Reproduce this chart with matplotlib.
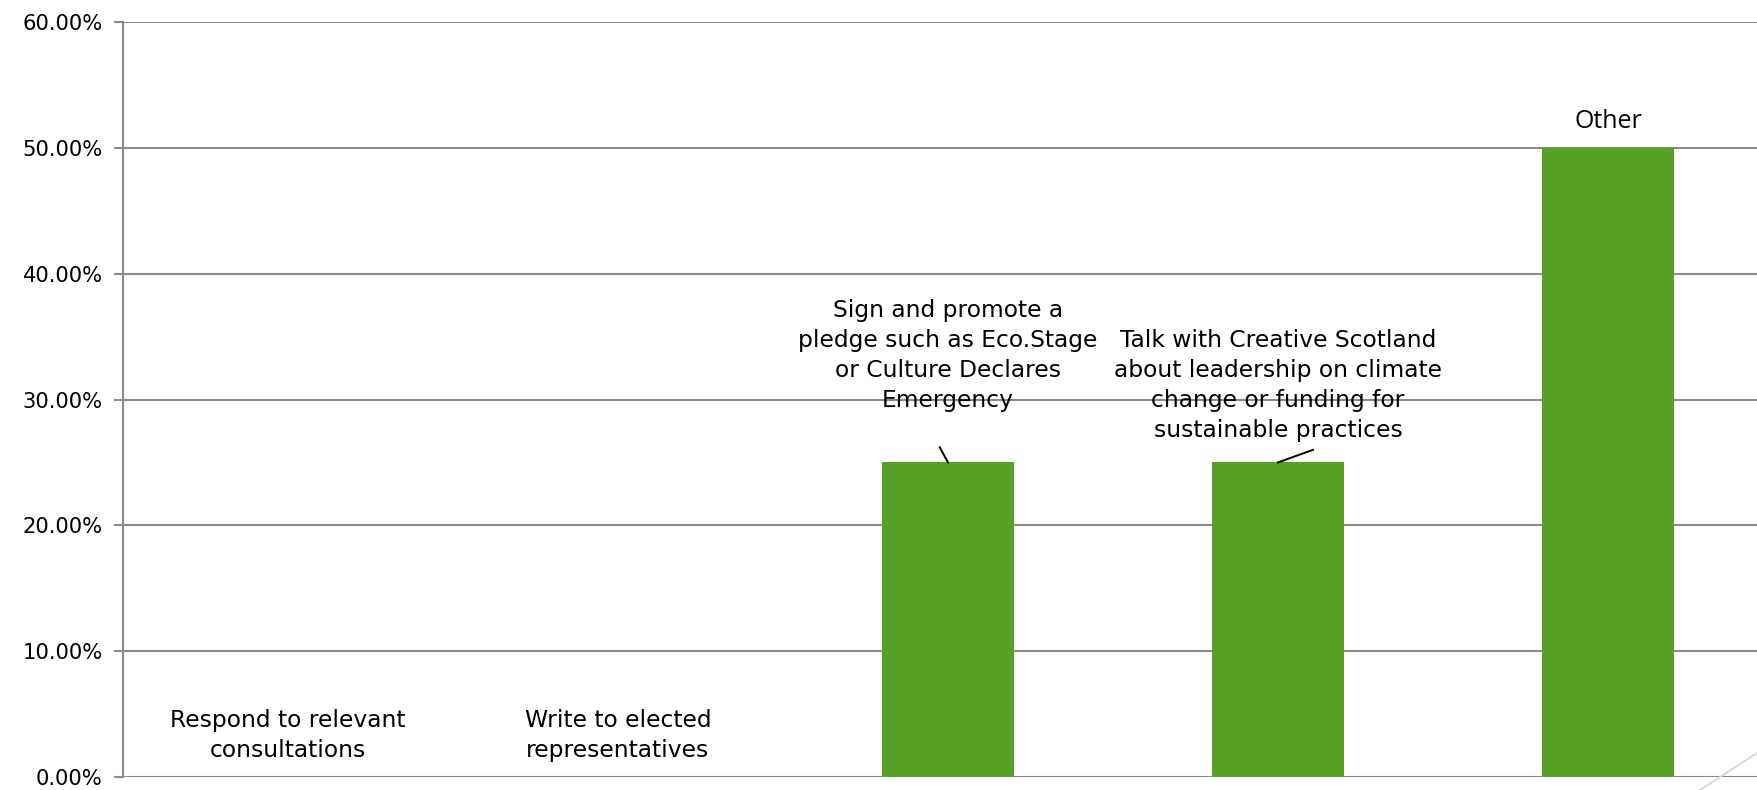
import matplotlib.pyplot as plt
from matplotlib.lines import Line2D

# Data
categories = [
    "Respond to relevant\nconsultations",
    "Write to elected\nrepresentatives",
    "Sign and promote a\npledge such as Eco.Stage\nor Culture Declares\nEmergency",
    "Talk with Creative Scotland\nabout leadership on climate\nchange or funding for\nsustainable practices",
    "Other",
]
values = [0.0, 0.0, 25.0, 25.0, 50.0]
y_ticks = [0, 10, 20, 30, 40, 50, 60]

# label centre heights (in % units) as placed in the original
label_y = [3.3, 3.3, 33.5, 31.1, 52.1]

GRID = "#8a8a8a"
GREEN = "#56a024"

fig = plt.figure(figsize=(17.57, 7.90), dpi=100)
ax = fig.add_axes([123 / 1757, 13 / 790, 1650 / 1757, 755 / 790])

x = list(range(len(categories)))
ax.bar(x, values, width=0.4, color=GREEN, zorder=3)

ax.set_xlim(-0.5, 4.5)
ax.set_ylim(0, 60)
ax.set_yticks(y_ticks)
ax.set_yticklabels([f"{t:.2f}%" for t in y_ticks], fontsize=15.2, family="DejaVu Sans")
ax.set_xticks([])
ax.yaxis.grid(True, color=GRID, linewidth=1.5, zorder=0)
ax.tick_params(axis="y", length=6.5, width=1.5, color=GRID, pad=8)
for s in ["top", "right", "bottom"]:
    ax.spines[s].set_visible(False)
ax.spines["left"].set_color(GRID)
ax.spines["left"].set_linewidth(1.5)

# data labels
for i, (cat, ly) in enumerate(zip(categories, label_y)):
    if cat == "Other":
        ax.text(i, ly, cat, ha="center", va="center", fontsize=18,
                family="Open Sans", zorder=4)
    else:
        ax.text(i, ly, cat, ha="center", va="center", fontsize=16.8,
                family="DejaVu Sans", linespacing=1.38, zorder=4)

# leader lines
ax.plot([2.0, 1.975], [25.0, 26.2], color="black", lw=1.4, zorder=4)
ax.plot([3.0, 3.106], [25.0, 26.0], color="black", lw=1.4, zorder=4)

# slide decoration at bottom right
fig.add_artist(Line2D([1700 / 1757, 1.0], [0.0, 37 / 790], color="#d4d4d4",
                      lw=1.2, transform=fig.transFigure))

fig.savefig("out.png", dpi=100)
